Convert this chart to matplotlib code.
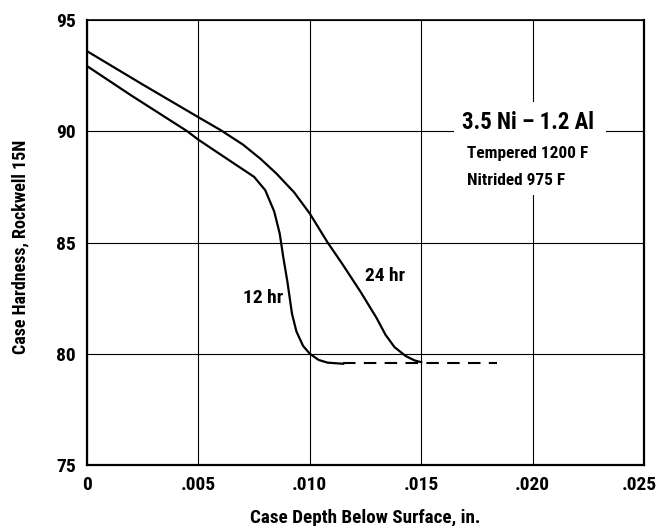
import matplotlib
matplotlib.use("Agg")
import matplotlib.pyplot as plt
import matplotlib.transforms as mtransforms
from matplotlib.patches import Rectangle

# hardness traverse data, 3.5 Ni - 1.2 Al steel
depth_12hr = [0.0, 0.0020, 0.0045, 0.0050, 0.0060, 0.0069, 0.0075, 0.0080, 0.0084,
              0.00865, 0.0088, 0.0090, 0.0092, 0.0094, 0.0097, 0.0100, 0.0104, 0.0108, 0.0115]
hard_12hr = [92.93, 91.6, 90.0, 89.62, 88.95, 88.35, 87.95, 87.35, 86.4,
             85.4, 84.4, 83.2, 81.8, 81.0, 80.35, 80.0, 79.72, 79.6, 79.55]

depth_24hr = [0.0, 0.0025, 0.0050, 0.0060, 0.0070, 0.0078, 0.0085, 0.0093, 0.0100,
              0.0108, 0.01145, 0.0123, 0.0130, 0.0134, 0.0138, 0.0143, 0.0147, 0.0150]
hard_24hr = [93.6, 92.1, 90.63, 90.05, 89.4, 88.75, 88.1, 87.25, 86.3,
             85.0, 84.05, 82.75, 81.6, 80.85, 80.3, 79.9, 79.7, 79.62]

# core hardness beyond the case (dashed)
depth_core = [0.0115, 0.0184]
hard_core = [79.6, 79.6]

xticks = [0, 0.005, 0.010, 0.015, 0.020, 0.025]
xtick_labels = ["0", ".005", ".010", ".015", ".020", ".025"]
yticks = [75, 80, 85, 90, 95]

plt.rcParams["font.family"] = ["Roboto Condensed", "DejaVu Sans"]
plt.rcParams["font.weight"] = "bold"

fig = plt.figure(figsize=(6.58, 5.26), dpi=100)
ax = fig.add_axes([87 / 658, 1 - 465 / 526, (644 - 87) / 658, (465 - 20) / 526])

ax.set_xlim(0, 0.025)
ax.set_ylim(75, 95)
ax.set_xticks(xticks)
ax.set_xticklabels(xtick_labels)
ax.set_yticks(yticks)
ax.grid(True, color="black", linewidth=0.8)
ax.set_axisbelow(True)
ax.tick_params(length=0, labelsize=14)
ax.tick_params(axis="x", pad=8)
ax.tick_params(axis="y", pad=8)
for s in ax.spines.values():
    s.set_linewidth(1.6)
ax.spines["top"].set_linewidth(1.2)

# last x label sits right at the figure edge, pull it in a few pixels
last = ax.get_xticklabels()[-1]
last.set_transform(last.get_transform() + mtransforms.ScaledTranslation(-5 / 100, 0, fig.dpi_scale_trans))

ax.plot(depth_12hr, hard_12hr, color="black", linewidth=1.6, zorder=3)
ax.plot(depth_24hr, hard_24hr, color="black", linewidth=1.6, zorder=3)
ax.plot(depth_core, hard_core, color="black", linewidth=1.5, dashes=(6, 4), zorder=3)

ax.text(0.0079, 82.5, "12 hr", fontsize=14, ha="center", va="center")
ax.text(0.0134, 83.5, "24 hr", fontsize=14, ha="center", va="center")

# white block that breaks the grid behind the alloy note
ax.add_patch(Rectangle((0.01647, 87.12), 0.02329 - 0.01647, 91.31 - 87.12,
                       facecolor="white", edgecolor="none", zorder=1))
ax.text(0.01683, 90.4, "3.5 Ni \u2013 1.2 Al", fontsize=16.5, ha="left", va="center", zorder=2)
ax.text(0.01706, 89.0, "Tempered 1200 F", fontsize=12.4, ha="left", va="center", zorder=2)
ax.text(0.01706, 87.8, "Nitrided 975 F", fontsize=12.4, ha="left", va="center", zorder=2)

ax.set_xlabel("Case Depth Below Surface, in.", fontsize=13.8, fontweight="bold")
ax.set_ylabel("Case Hardness, Rockwell 15N", fontsize=13, fontweight="bold")
ax.xaxis.set_label_coords(0.5, (465 - 518) / 445, transform=ax.transAxes)
ax.yaxis.set_label_coords((20 - 87) / 557, 0.49, transform=ax.transAxes)
ax.xaxis.label.set_va("center")
ax.yaxis.label.set_va("center")

fig.savefig("out.png", dpi=100)
